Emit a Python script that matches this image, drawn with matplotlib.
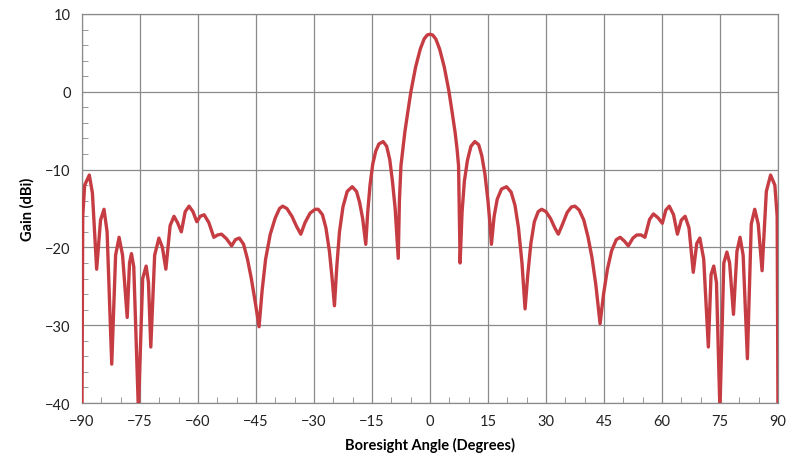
import numpy as np
import matplotlib.pyplot as plt
from matplotlib.ticker import MultipleLocator

# angle (deg) and gain (dBi)
angle = [-90, -89.8, -89.3, -88.1, -87.3, -86.2,
         -85.2, -84.3, -83.5, -82.3,
         -81.3, -80.4, -79.5, -78.3,
         -77.7, -77.2, -76.6, -75.4,
         -74.3, -73.4, -72.8, -72.2,
         -71.2, -70.1, -69.2, -68.3,
         -67.2, -66.2, -65.3, -64.3,
         -63.3, -62.3, -61.3, -60.3,
         -59.4, -58.4, -57.2, -55.9,
         -54.9, -53.9, -52.6, -51.3,
         -50.3, -49.3, -48.2, -47.2, -46.2, -45.2, -44.2,
         -43.4, -42.5, -41.3, -40.0, -38.9, -38.1, -37.0, -35.7, -34.5, -33.4,
         -32.3, -31.0, -29.7, -28.9, -27.8, -26.9, -26.0, -25.3, -24.7,
         -24.1, -23.4, -22.5, -21.4, -20.1, -19.0, -18.2, -17.4, -16.6,
         -16.1, -15.5, -14.8, -14.0, -13.2, -12.1, -11.2, -10.4, -9.7, -9.0, -8.2,
         -7.9, -7.5, -7.0, -6.5, -5.7, -4.9, -3.7, -2.5, -1.5, -0.7, 0,
         0.7, 1.5, 2.5, 3.7, 4.9, 5.7, 6.5, 7.0, 7.4, 7.8,
         8.3, 8.9, 9.7, 10.6, 11.6, 12.6, 13.4, 14.2, 15.0, 15.5, 15.9,
         16.6, 17.4, 18.5, 19.8, 21.0, 22.0, 22.9, 23.8, 24.6,
         25.3, 26.1, 27.0, 28.0, 28.9, 30.0, 31.2, 32.3, 33.2,
         34.3, 35.5, 36.6, 37.5, 38.6, 39.8, 40.9, 41.9, 42.9, 44.0,
         44.9, 45.9, 47.0, 48.2, 49.2, 50.3, 51.3,
         52.5, 53.5, 54.6, 55.6,
         56.8, 57.8, 59.0, 60.1,
         61.0, 61.9, 63.0, 64.0,
         65.0, 66.0, 67.0, 68.1,
         69.0, 69.8, 70.8, 72.0,
         72.7, 73.4, 74.1, 75.0,
         76.0, 76.8, 77.5, 78.5,
         79.4, 80.2, 81.0, 82.1,
         83.1, 84.0, 84.9, 85.9,
         87.0, 88.1, 89.2, 89.8, 90]
gain = [-40, -16, -12, -10.7, -13, -22.8,
        -16.5, -15.1, -18, -35,
        -21, -18.7, -21, -29,
        -22, -20.8, -22.5, -41,
        -24, -22.4, -24.5, -32.8,
        -21, -18.8, -20, -22.8,
        -17.2, -16, -16.8, -18,
        -15.4, -14.7, -15.4, -16.7,
        -16, -15.8, -16.8, -18.7,
        -18.4, -18.3, -18.9, -19.8,
        -19, -18.8, -19.6, -21.5, -24, -27, -30.2,
        -25.5, -21.5, -18.3, -16.2, -15.0, -14.7, -15.0, -16.0, -17.3, -18.3,
        -16.8, -15.6, -15.1, -15.1, -15.8, -17.5, -20.5, -24, -27.5,
        -22.5, -18, -14.8, -12.8, -12.2, -12.8, -14.2, -16.3, -19.6,
        -15.5, -12, -9.3, -7.6, -6.7, -6.4, -7.0, -8.7, -11.5, -15, -21.4,
        -14, -9.5, -7.3, -5.2, -2.5, 0.1, 3.2, 5.5, 6.8, 7.3, 7.4,
        7.3, 6.8, 5.5, 3.2, 0.1, -2.5, -5.2, -7.3, -9.5, -22,
        -15.5, -11.5, -8.8, -7.0, -6.4, -6.8, -8.2, -10.5, -14, -16.8, -19.6,
        -16, -13.8, -12.5, -12.2, -12.9, -14.6, -17.5, -22, -27.9,
        -23.5, -19.5, -16.7, -15.4, -15.1, -15.4, -16.3, -17.5, -18.3,
        -17, -15.5, -14.8, -14.7, -15.2, -16.5, -18.7, -21.3, -24.8, -29.8,
        -26, -22.8, -20.4, -19.0, -18.7, -19.2, -19.8,
        -18.8, -18.4, -18.4, -18.7,
        -16.4, -15.7, -16.2, -16.9,
        -15.2, -14.7, -15.8, -18.3,
        -16.5, -16, -17.5, -23.2,
        -19.5, -18.8, -21.5, -32.8,
        -23.5, -22.4, -24.5, -41,
        -22, -20.6, -22, -28.6,
        -20.5, -18.7, -21, -34.3,
        -17, -15.1, -17, -23,
        -12.8, -10.7, -12, -16, -40]

x_ticks = [-90, -75, -60, -45, -30, -15, 0, 15, 30, 45, 60, 75, 90]
y_ticks = [-40, -30, -20, -10, 0, 10]

plt.rcParams['font.family'] = ['Lato', 'DejaVu Sans']

fig = plt.figure(figsize=(8.02, 4.6), dpi=100)
ax = fig.add_axes([0.1022, 0.1217, 0.8678, 0.8457])

ax.plot(angle, gain, color='#C63C43', lw=2.4, solid_joinstyle='round',
        solid_capstyle='round', zorder=3)

ax.set_xlim(-90, 90)
ax.set_ylim(-40, 10)
ax.set_xticks(x_ticks)
ax.set_yticks(y_ticks)
ax.xaxis.set_minor_locator(MultipleLocator(5))
ax.yaxis.set_minor_locator(MultipleLocator(2))
ax.tick_params(which='major', length=0, labelsize=10.5, colors='#222222', pad=8)
ax.tick_params(which='minor', direction='in', length=4, color='#888888')
ax.tick_params(axis='y', which='minor', right=False)
ax.tick_params(axis='x', which='minor', top=False)
ax.grid(True, which='major', color='#8a8a8a', lw=0.9)
for s in ax.spines.values():
    s.set_color('#8a8a8a')
    s.set_linewidth(0.9)

ax.set_xlabel('Boresight Angle (Degrees)', fontsize=10.5, fontweight='bold', labelpad=6)
ax.set_ylabel('Gain (dBi)', fontsize=10.5, fontweight='bold', labelpad=8)

plt.savefig('out.png', dpi=100)
